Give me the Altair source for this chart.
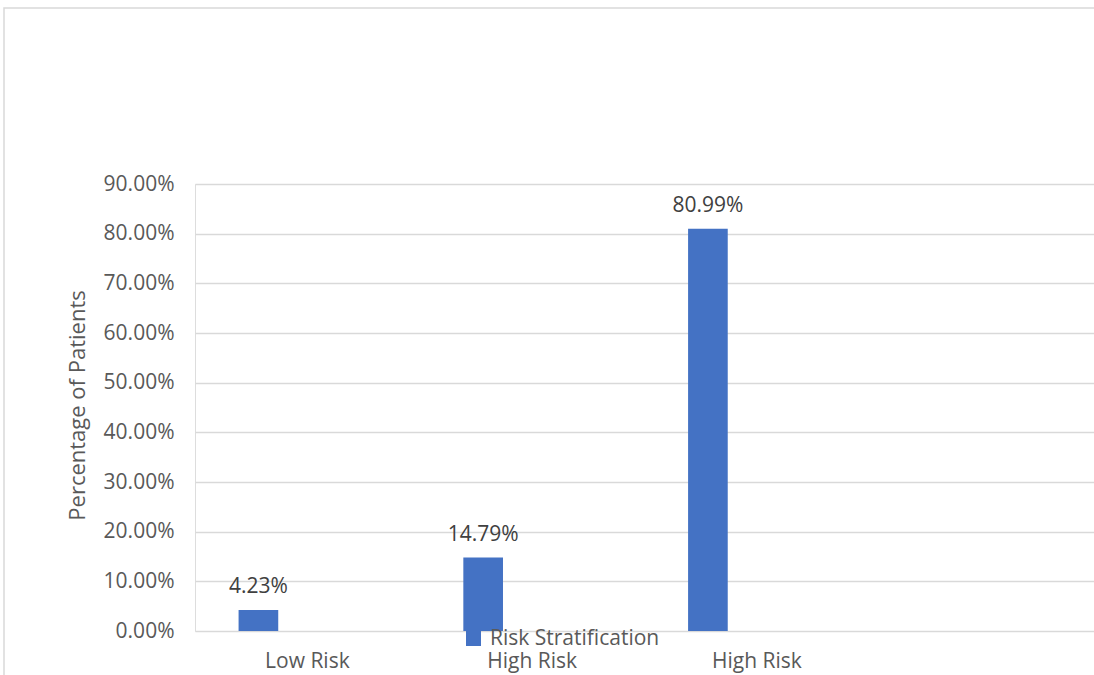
import altair as alt
import pandas as pd

# ---- data ----
category_ids = ["c1", "c2", "c3", "c4"]
category_labels = ["Low Risk", "High Risk", "High Risk", ""]
bar_categories = ["c1", "c2", "c3"]
values = [0.0423, 0.1479, 0.8099]
series_name = "Risk Stratification"
offset_domain = ["Risk Stratification", "(empty)"]
y_ticks = [0.0, 0.1, 0.2, 0.3, 0.4, 0.5, 0.6, 0.7, 0.8, 0.9]

df = pd.DataFrame({
    "cat": bar_categories,
    "value": values,
    "series": [series_name] * len(values),
})

FONT = "Open Sans"
GRAY = "#595959"
BLUE = "#4472C4"

ids_js = "[" + ",".join("'%s'" % c for c in category_ids) + "]"
labs_js = "[" + ",".join("'%s'" % c for c in category_labels) + "]"
label_expr = f"{labs_js}[indexof({ids_js}, datum.value)]"

x_enc = alt.X(
    "cat:N",
    scale=alt.Scale(domain=category_ids, paddingInner=0, paddingOuter=0),
    axis=alt.Axis(
        title=None, labelExpr=label_expr, domain=False, ticks=False,
        labelAngle=0, labelFontSize=21, labelColor=GRAY, labelFont=FONT,
        labelPadding=19, labelBaseline="top",
    ),
)
xoff_enc = alt.XOffset(
    "series:N",
    scale=alt.Scale(domain=offset_domain, paddingInner=0.595, paddingOuter=0.445),
)
y_enc = alt.Y(
    "value:Q",
    scale=alt.Scale(domain=[0, 0.9], nice=False),
    axis=alt.Axis(
        values=y_ticks, format=".2%", title="Percentage of Patients",
        domain=False, ticks=False, labelFontSize=21, labelColor=GRAY,
        labelFont=FONT, labelPadding=21, gridColor="#d9d9d9", gridWidth=1.4,
        titleFontSize=22, titleFont=FONT, titleColor=GRAY, titleFontWeight="normal",
        titleX=-118, titleY=221, titleAlign="center", titleBaseline="middle",
        titleAngle=270,
    ),
)

bars = alt.Chart(df).mark_bar().encode(
    x=x_enc,
    xOffset=xoff_enc,
    y=y_enc,
    color=alt.Color(
        "series:N",
        scale=alt.Scale(domain=[series_name], range=[BLUE]),
        legend=alt.Legend(
            title=None, orient="none", legendX=268, legendY=444,
            symbolType="square", symbolSize=225, symbolStrokeWidth=0,
            symbolFillColor=BLUE, labelFontSize=21, labelFont=FONT,
            labelColor=GRAY, labelOffset=6, padding=0, labelLimit=500,
        ),
    ),
)

labels = alt.Chart(df).mark_text(
    baseline="bottom", dy=-13, fontSize=21, font=FONT, color="#404040"
).encode(
    x=alt.X("cat:N", scale=alt.Scale(domain=category_ids, paddingInner=0, paddingOuter=0)),
    xOffset=alt.XOffset("series:N", scale=alt.Scale(domain=offset_domain, paddingInner=0.595, paddingOuter=0.445)),
    y=alt.Y("value:Q"),
    text=alt.Text("value:Q", format=".2%"),
)

frame = alt.Chart(pd.DataFrame({"a": [0]})).mark_rect(
    fill=None, stroke="#d9d9d9", strokeWidth=1.5
).encode(
    x=alt.value(-191), x2=alt.value(910), y=alt.value(-176), y2=alt.value(510)
)

chart = alt.layer(frame, bars, labels).properties(
    width=899, height=447,
    autosize=alt.AutoSizeParams(type="none"),
    padding={"left": 195, "top": 184, "right": 0, "bottom": 44},
).configure_view(stroke=None).configure(background="white")

chart.save("out.html", embed_options={"renderer": "svg", "actions": False})
